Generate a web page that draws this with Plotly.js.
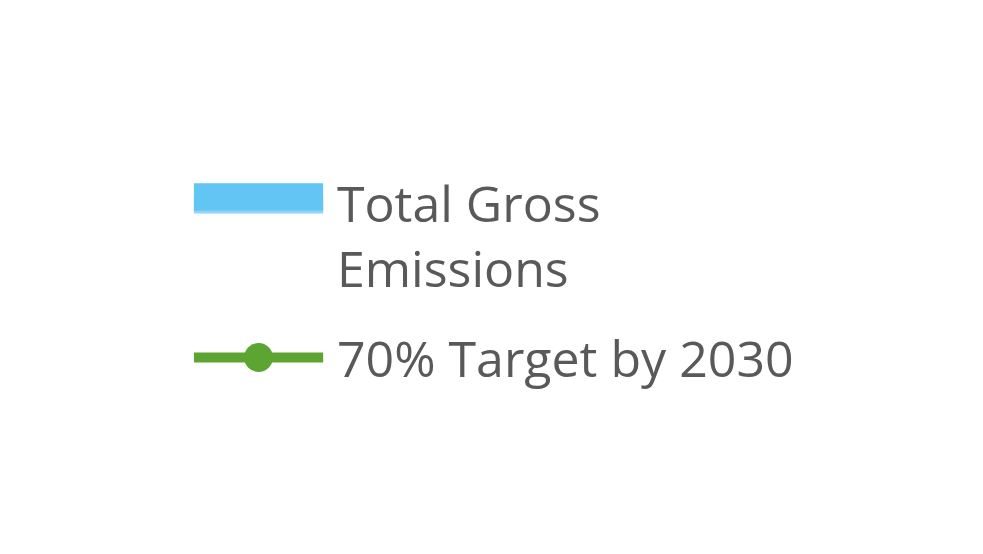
<!DOCTYPE html>
<html>
<head>
<meta charset="utf-8">
<script src="https://cdn.plot.ly/plotly-3.0.1.min.js"></script>
<style>
  html, body { margin: 0; padding: 0; background: #fff; overflow: hidden; }
  #wrap { width: 983px; height: 554px; overflow: hidden; }
  /* the legend symbols in plotly have fixed sizes, so the whole plot is drawn small and scaled up */
  #plot { transform-origin: 0 0; transform: scale(2.75); }
</style>
</head>
<body>
<div id="wrap"><div id="plot"></div></div>
<script>
// Only the legend is visible in the picture, so the series carry no readable values
var seriesNames = ["Total Gross<br>Emissions", "70% Target by 2030"];
var seriesColors = ["#62C5F4", "#5DA533"];
var years = [null];
var emissions = [null];
var target = [null];

// Trace 1 for the emissions area
var trace1 = {
    x: years,
    y: emissions,
    name: seriesNames[0],
    legendgroup: "a",
    type: "scatter",
    mode: "lines",
    fill: "tozeroy",
    fillcolor: "#8ED5F7",
    line: {color: seriesColors[0], width: 10}
};

// Trace 2 for the target line
var trace2 = {
    x: years,
    y: target,
    name: seriesNames[1],
    legendgroup: "b",
    type: "scatter",
    mode: "lines+markers",
    line: {color: seriesColors[1], width: 3.7},
    marker: {color: seriesColors[1], size: 10.5}
};

var data = [trace1, trace2];

var layout = {
    width: 358,
    height: 202,
    margin: {l: 0, r: 0, t: 0, b: 0},
    paper_bgcolor: "#fff",
    plot_bgcolor: "#fff",
    showlegend: true,
    xaxis: {visible: false},
    yaxis: {visible: false},
    legend: {
        x: 0.183,
        xanchor: "left",
        y: 0.726,
        yanchor: "top",
        valign: "top",
        itemwidth: 47,
        itemsizing: "trace",
        traceorder: "grouped",
        tracegroupgap: 6,
        bgcolor: "rgba(0,0,0,0)",
        font: {family: "Open Sans", size: 18.2, color: "#595959"}
    }
};

Plotly.newPlot("plot", data, layout, {displayModeBar: false, staticPlot: true});
</script>
</body>
</html>
